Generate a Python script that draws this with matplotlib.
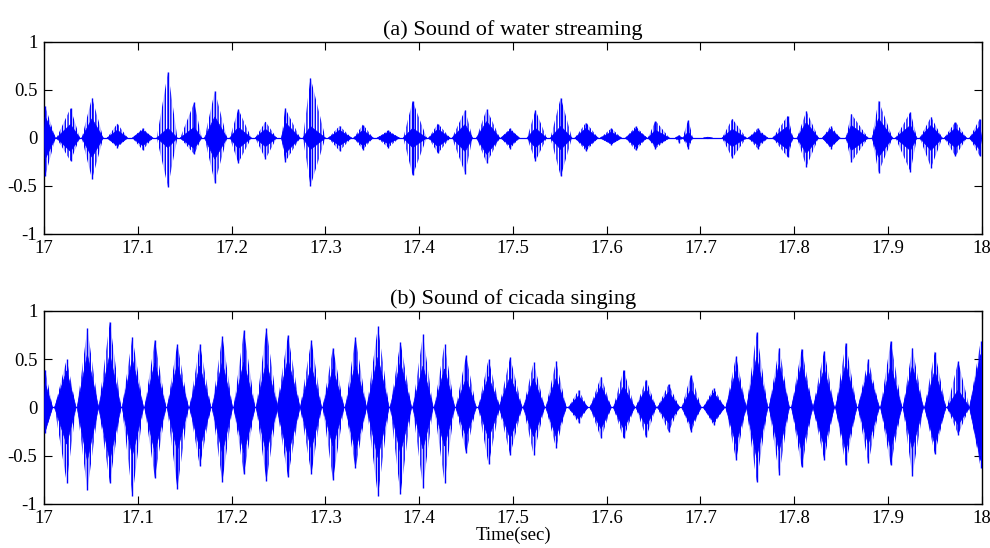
import numpy as np
import matplotlib
matplotlib.use("Agg")
import matplotlib.pyplot as plt

plt.rcParams['font.family'] = ['Liberation Serif', 'DejaVu Serif']
plt.rcParams['axes.unicode_minus'] = False
plt.rcParams['hatch.linewidth'] = 1.0
plt.rcParams['hatch.color'] = 'blue'

# (a) water streaming: one entry per burst
# start / end of burst (sec), time of biggest spike, max, min, dense core half-height
water_start = [17.000, 17.013, 17.040, 17.067, 17.094, 17.120, 17.145, 17.171, 17.198, 17.225,
               17.253, 17.276, 17.303, 17.330, 17.355, 17.383, 17.410, 17.435, 17.461, 17.487,
               17.515, 17.540, 17.566, 17.593, 17.620, 17.644, 17.673, 17.681, 17.703, 17.723,
               17.751, 17.777, 17.803, 17.830, 17.855, 17.883, 17.908, 17.934, 17.960, 17.987]
water_end = [17.012, 17.038, 17.063, 17.089, 17.116, 17.142, 17.168, 17.195, 17.221, 17.248,
             17.273, 17.300, 17.328, 17.351, 17.379, 17.408, 17.433, 17.457, 17.486, 17.507,
             17.536, 17.563, 17.591, 17.616, 17.643, 17.667, 17.681, 17.692, 17.713, 17.749,
             17.772, 17.799, 17.826, 17.849, 17.879, 17.905, 17.931, 17.958, 17.984, 18.000]
water_peak = [17.001, 17.028, 17.051, 17.078, 17.105, 17.132, 17.160, 17.182, 17.207, 17.236,
              17.257, 17.284, 17.315, 17.340, 17.367, 17.393, 17.420, 17.449, 17.472, 17.497,
              17.524, 17.551, 17.578, 17.605, 17.631, 17.652, 17.677, 17.687, 17.708, 17.734,
              17.761, 17.793, 17.813, 17.839, 17.861, 17.890, 17.924, 17.946, 17.972, 17.998]
water_max = [0.33, 0.31, 0.42, 0.15, 0.10, 0.69, 0.37, 0.49, 0.30, 0.17,
             0.31, 0.63, 0.125, 0.14, 0.08, 0.385, 0.15, 0.29, 0.30, 0.10,
             0.29, 0.42, 0.16, 0.10, 0.12, 0.18, 0.03, 0.19, 0.012, 0.20,
             0.10, 0.23, 0.28, 0.125, 0.25, 0.39, 0.27, 0.22, 0.17, 0.20]
water_min = [-0.40, -0.24, -0.43, -0.10, -0.125, -0.51, -0.17, -0.47, -0.26, -0.22,
             -0.25, -0.50, -0.135, -0.12, -0.10, -0.39, -0.16, -0.37, -0.26, -0.11,
             -0.24, -0.40, -0.135, -0.07, -0.13, -0.11, -0.05, -0.11, -0.005, -0.21,
             -0.11, -0.20, -0.30, -0.11, -0.25, -0.36, -0.35, -0.31, -0.19, -0.19]
water_core = [0.22, 0.14, 0.20, 0.08, 0.08, 0.10, 0.11, 0.22, 0.11, 0.09,
              0.16, 0.12, 0.08, 0.08, 0.06, 0.10, 0.09, 0.14, 0.17, 0.08,
              0.10, 0.12, 0.10, 0.06, 0.09, 0.08, 0.02, 0.06, 0.008, 0.09,
              0.07, 0.12, 0.16, 0.09, 0.13, 0.20, 0.13, 0.13, 0.10, 0.12]

# (b) cicada singing
cicada_start = [17.000, 17.011, 17.035, 17.058, 17.083, 17.107, 17.131, 17.155, 17.179, 17.202,
                17.226, 17.248, 17.273, 17.297, 17.321, 17.344, 17.369, 17.393, 17.416, 17.439,
                17.463, 17.485, 17.511, 17.535, 17.559, 17.582, 17.607, 17.631, 17.654, 17.680,
                17.703, 17.727, 17.749, 17.773, 17.797, 17.820, 17.844, 17.868, 17.892, 17.916,
                17.939, 17.963, 17.987]
cicada_end = [17.009, 17.034, 17.058, 17.082, 17.106, 17.130, 17.154, 17.178, 17.201, 17.225,
              17.249, 17.273, 17.296, 17.320, 17.344, 17.368, 17.392, 17.415, 17.438, 17.461,
              17.486, 17.510, 17.534, 17.557, 17.580, 17.605, 17.630, 17.653, 17.678, 17.701,
              17.726, 17.749, 17.772, 17.795, 17.820, 17.843, 17.867, 17.891, 17.915, 17.938,
              17.962, 17.987, 18.000]
cicada_peak = [17.001, 17.024, 17.046, 17.070, 17.094, 17.118, 17.142, 17.166, 17.190, 17.213,
               17.237, 17.260, 17.285, 17.308, 17.332, 17.356, 17.380, 17.404, 17.427, 17.450,
               17.474, 17.497, 17.522, 17.546, 17.570, 17.594, 17.618, 17.642, 17.666, 17.690,
               17.714, 17.738, 17.760, 17.784, 17.808, 17.832, 17.855, 17.879, 17.903, 17.926,
               17.950, 17.975, 17.999]
cicada_max = [0.39, 0.50, 0.82, 0.89, 0.73, 0.70, 0.66, 0.66, 0.74, 0.80,
              0.82, 0.75, 0.70, 0.62, 0.73, 0.84, 0.68, 0.76, 0.66, 0.54,
              0.50, 0.52, 0.47, 0.48, 0.18, 0.32, 0.39, 0.29, 0.24, 0.34,
              0.20, 0.53, 0.78, 0.62, 0.61, 0.59, 0.67, 0.50, 0.69, 0.62,
              0.58, 0.48, 0.69]
cicada_min = [-0.26, -0.78, -0.86, -0.78, -0.92, -0.73, -0.84, -0.61, -0.77, -0.69,
              -0.76, -0.72, -0.69, -0.75, -0.63, -0.92, -0.90, -0.83, -0.78, -0.47,
              -0.59, -0.49, -0.49, -0.42, -0.16, -0.32, -0.32, -0.31, -0.25, -0.25,
              -0.18, -0.54, -0.77, -0.70, -0.62, -0.54, -0.60, -0.58, -0.60, -0.71,
              -0.48, -0.28, -0.63]
cicada_core = [0.25, 0.38, 0.55, 0.55, 0.50, 0.46, 0.45, 0.43, 0.47, 0.47,
               0.47, 0.50, 0.43, 0.40, 0.45, 0.52, 0.47, 0.43, 0.40, 0.30,
               0.32, 0.32, 0.30, 0.30, 0.12, 0.22, 0.22, 0.19, 0.16, 0.19,
               0.15, 0.38, 0.52, 0.45, 0.45, 0.40, 0.45, 0.38, 0.43, 0.43,
               0.38, 0.18, 0.55]

titles = ['(a) Sound of water streaming', '(b) Sound of cicada singing']
xticks = [17, 17.1, 17.2, 17.3, 17.4, 17.5, 17.6, 17.7, 17.8, 17.9, 18]
xticklabels = ['17', '17.1', '17.2', '17.3', '17.4', '17.5', '17.6', '17.7', '17.8', '17.9', '18']
yticks = [-1, -0.5, 0, 0.5, 1]
yticklabels = ['-1', '-0.5', '0', '0.5', '1']


def draw_bursts(ax, t0, t1, tp, hi, lo, core):
    ax.axhline(0, color='blue', lw=0.9, zorder=1)
    for a, b, p, h, l, c in zip(t0, t1, tp, hi, lo, core):
        # outer spiky envelope
        ax.fill([a, p, b, p], [0, h, 0, l], facecolor='none', edgecolor='blue',
                hatch='||||||', linewidth=0, zorder=2)
        # dense core
        ax.fill([a, p, b, p], [0, c, 0, -c], color='blue', linewidth=0.5, zorder=3)
        ax.vlines(p, l, h, color='blue', lw=1.0, zorder=3)


fig = plt.figure(figsize=(9.9, 5.48), dpi=100)
ax1 = fig.add_axes([0.0447, 0.573, 0.9469, 0.3504])
ax2 = fig.add_axes([0.0447, 0.0803, 0.9469, 0.3522])

draw_bursts(ax1, water_start, water_end, water_peak, water_max, water_min, water_core)
draw_bursts(ax2, cicada_start, cicada_end, cicada_peak, cicada_max, cicada_min, cicada_core)

for ax, title in zip([ax1, ax2], titles):
    ax.set_xlim(17, 18)
    ax.set_ylim(-1, 1)
    ax.set_xticks(xticks)
    ax.set_xticklabels(xticklabels)
    ax.set_yticks(yticks)
    ax.set_yticklabels(yticklabels)
    ax.tick_params(direction='in', length=6, width=0.8, labelsize=13.5,
                   top=True, right=True, pad=4)
    ax.tick_params(axis='y', pad=5)
    for s in ax.spines.values():
        s.set_linewidth(1.0)
    ax.set_title(title, fontsize=16, pad=5)

ax2.set_xlabel('Time(sec)', fontsize=13.5, labelpad=0)

fig.savefig('out.png', dpi=100)
